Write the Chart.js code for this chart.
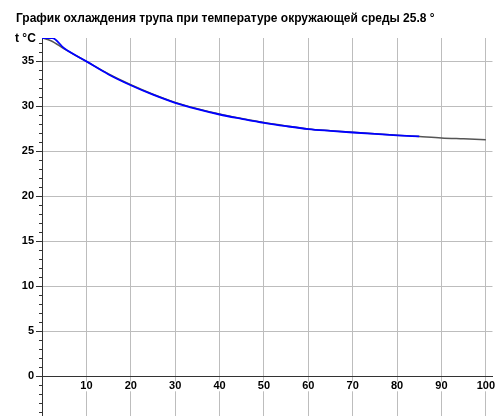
<!DOCTYPE html>
<html>
<head>
<meta charset="utf-8">
<script src="https://cdn.jsdelivr.net/npm/chart.js@4.4.1/dist/chart.umd.min.js"></script>
<style>
  html, body { margin: 0; padding: 0; background: #fff; }
  #wrap { width: 500px; height: 416px; }
</style>
</head>
<body>
<div id="wrap"><canvas id="chart" width="500" height="416"></canvas></div>
<script>
// ===== DATA =====
const TITLE = 'График охлаждения трупа при температуре окружающей среды 25.8 °';
const Y_TITLE = 't °C';

// model curve (black), minutes -> °C
const modelTime = [0, 2, 5, 10, 15, 20, 25, 30, 35, 40, 45, 50, 55, 60, 65, 70, 75, 80, 85, 90, 95, 100];
const modelTemp = [37.6, 37.3, 36.4, 35.0, 33.6, 32.4, 31.35, 30.45, 29.75, 29.15, 28.65, 28.2, 27.83, 27.5, 27.3, 27.12, 26.95, 26.8, 26.65, 26.5, 26.4, 26.3];

// measured curve (blue)
const measTime = [0, 2.3, 5, 10, 15, 20, 25, 30, 35, 40, 45, 50, 55, 60, 65, 70, 75, 80, 85];
const measTemp = [37.6, 37.6, 36.45, 35.0, 33.55, 32.35, 31.3, 30.4, 29.7, 29.1, 28.62, 28.17, 27.8, 27.48, 27.28, 27.1, 26.94, 26.79, 26.66];

const X_TICKS = [10, 20, 30, 40, 50, 60, 70, 80, 90, 100];
const Y_TICKS = [0, 5, 10, 15, 20, 25, 30, 35];

const AXIS = '#333333';
const GRID = '#bdbdbd';
const FONT = 'Liberation Sans, Arial, sans-serif';

const isMajor = (v) => Y_TICKS.includes(Math.round(v)) && Math.abs(v - Math.round(v)) < 1e-6;

// ===== PLUGIN: title, axis label, long major ticks =====
const decor = {
  id: 'decor',
  afterDraw(chart) {
    const ctx = chart.ctx;
    const y = chart.scales.y;
    const left = chart.chartArea.left;
    ctx.save();
    ctx.fillStyle = '#000';
    ctx.font = 'bold 12px ' + FONT;
    ctx.textBaseline = 'alphabetic';
    ctx.textAlign = 'left';
    ctx.fillText(TITLE, 16, 22);
    ctx.fillText(Y_TITLE, 15, 42);
    ctx.strokeStyle = AXIS;
    ctx.lineWidth = 1;
    for (const v of Y_TICKS) {
      const py = Math.round(y.getPixelForValue(v)) + 0.5;
      ctx.beginPath();
      ctx.moveTo(left - 6, py);
      ctx.lineTo(left, py);
      ctx.stroke();
    }
    ctx.restore();
  }
};

// ===== CHART =====
const ctx = document.getElementById('chart').getContext('2d');
new Chart(ctx, {
  type: 'line',
  data: {
    datasets: [
      {
        label: 'measured',
        data: measTime.map((t, i) => ({ x: t, y: measTemp[i] })),
        borderColor: '#0000ff',
        borderWidth: 1.8,
        pointRadius: 0,
        cubicInterpolationMode: 'monotone',
        order: 0,
      },
      {
        label: 'model',
        data: modelTime.map((t, i) => ({ x: t, y: modelTemp[i] })),
        borderColor: '#555555',
        borderWidth: 1.5,
        pointRadius: 0,
        cubicInterpolationMode: 'monotone',
        order: 1,
      },
    ],
  },
  options: {
    responsive: false,
    animation: false,
    devicePixelRatio: 1,
    layout: { padding: { top: 38, left: 0, right: 0, bottom: 0 } },
    plugins: {
      legend: { display: false },
      title: { display: false },
      tooltip: { enabled: false },
    },
    scales: {
      x: {
        type: 'linear',
        position: { y: 0 },
        min: 0,
        max: 101.5,
        afterBuildTicks: (scale) => { scale.ticks = X_TICKS.map(v => ({ value: v })); },
        grid: { color: GRID, drawTicks: false },
        border: { color: AXIS, width: 1 },
        ticks: {
          autoSkip: false,
          maxRotation: 0,
          padding: 5,
          color: '#000',
          font: { family: FONT, size: 11, weight: 'bold', lineHeight: 0.9 },
          showLabelBackdrop: true,
          backdropColor: '#ffffff',
          backdropPadding: { x: 1, y: 0 },
        },
      },
      y: {
        type: 'linear',
        min: -4.4,
        max: 37.6,
        afterBuildTicks: (scale) => {
          const ticks = [];
          for (let v = Math.ceil(scale.min); v <= Math.floor(scale.max); v++) ticks.push({ value: v });
          scale.ticks = ticks;
        },
        afterFit: (scale) => { scale.width = 42; scale.paddingTop = 0; scale.paddingBottom = 0; },
        grid: {
          color: (c) => (c.tick && c.tick.value !== 0 && isMajor(c.tick.value)) ? GRID : 'rgba(0,0,0,0)',
          tickColor: AXIS,
          tickLength: 3,
        },
        border: { color: AXIS, width: 1 },
        ticks: {
          autoSkip: false,
          padding: 5,
          color: '#000',
          font: { family: FONT, size: 11, weight: 'bold' },
          callback: (v) => isMajor(v) ? String(Math.round(v)) : '',
        },
      },
    },
  },
  plugins: [decor],
});
</script>
</body>
</html>
